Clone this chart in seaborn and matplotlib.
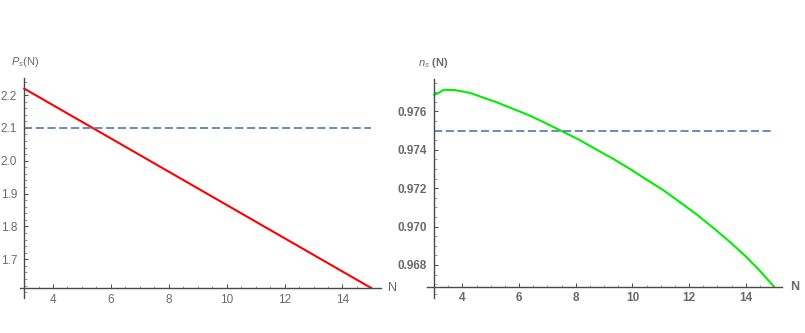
import numpy as np
import pandas as pd
import matplotlib
matplotlib.use("Agg")
import matplotlib.pyplot as plt
from matplotlib.ticker import MultipleLocator, FormatStrFormatter
import seaborn as sns

# Data ----------------------------------------------------------------
n_left = [3.0, 15.0]
ps_left = [2.22, 1.612]
ps_ref = 2.1

n_right = [3.0, 3.16, 3.34, 3.75, 4.28, 4.7, 5.22, 5.8, 6.40, 6.9, 7.46,
           8.1, 8.75, 9.3, 9.93, 10.5, 11.11, 11.7, 12.29, 12.9, 13.46,
           14.0, 14.5, 15.0]
ns_right = [0.97687, 0.97696, 0.97713, 0.97711, 0.97696, 0.97674, 0.97647,
            0.97613, 0.97577, 0.97542, 0.97501, 0.97454, 0.97400, 0.97355,
            0.97299, 0.97245, 0.97188, 0.97125, 0.97061, 0.96988, 0.96918,
            0.96845, 0.96770, 0.96687]
ns_ref = 0.975

x_major = [4, 6, 8, 10, 12, 14]
left_yticks = [1.7, 1.8, 1.9, 2.0, 2.1, 2.2]
right_yticks = [0.968, 0.970, 0.972, 0.974, 0.976]
# ---------------------------------------------------------------------

sns.set_style("white")
plt.rcParams['font.family'] = ['Liberation Sans', 'DejaVu Sans']
plt.rcParams['mathtext.fontset'] = 'custom'
plt.rcParams['mathtext.rm'] = 'Liberation Sans'
plt.rcParams['mathtext.it'] = 'Liberation Sans:italic'
plt.rcParams['mathtext.bf'] = 'Liberation Sans:bold'

axis_col = '#4a4a4a'
lab_col = '#6a6a6a'
dash_col = '#5e81b5'

fig = plt.figure(figsize=(8.05, 3.33), dpi=100)
ax1 = fig.add_axes([20/805, 35/333, 361/805, 220/333])
ax2 = fig.add_axes([426.7/805, 35/333, 355/805, 219/333])


def style_axes(ax, xlim, ylim, x0, y0, yticks, yminor):
    ax.set_xlim(*xlim)
    ax.set_ylim(*ylim)
    for s in ['top', 'right']:
        ax.spines[s].set_visible(False)
    ax.spines['left'].set_position(('data', x0))
    ax.spines['bottom'].set_position(('data', y0))
    for s in ['left', 'bottom']:
        ax.spines[s].set_color(axis_col)
        ax.spines[s].set_linewidth(1.0)
    ax.set_xticks(x_major)
    ax.set_yticks(yticks)
    ax.xaxis.set_minor_locator(MultipleLocator(0.5))
    ax.yaxis.set_minor_locator(MultipleLocator(yminor))
    ax.tick_params(which='both', bottom=True, left=True, top=False, right=False)
    ax.tick_params(which='major', direction='in', length=3.2, width=0.7,
                   color=axis_col, labelcolor=lab_col, labelsize=8.5, pad=5)
    ax.tick_params(which='minor', direction='in', length=1.8, width=0.6,
                   color='#888888')
    ax.tick_params(axis='x', pad=4)
    ax.set_xlabel('')
    ax.set_ylabel('')


# left panel
sns.lineplot(x=n_left, y=ps_left, ax=ax1, color='#ff0000', linewidth=1.5)
ax1.hlines(ps_ref, n_left[0], n_left[-1], color=dash_col, linewidth=1.3,
           linestyles=(0, (4.5, 2.0)))
style_axes(ax1, (2.86, 15.33), (1.582, 2.252), 3.0, 1.611,
           left_yticks, 0.02)
ax1.yaxis.set_major_formatter(FormatStrFormatter('%.1f'))
ax1.text(15.71, 1.611, 'N', ha='center', va='center', color=lab_col,
         fontsize=9, clip_on=False)
fig.text(25/805, 1 - 62/333, r'$P_s$(N)', ha='center', va='center',
         color=lab_col, fontsize=8)

# right panel
sns.lineplot(x=n_right, y=ns_right, ax=ax2, color='#00ee00', linewidth=1.5)
ax2.hlines(ns_ref, n_right[0], n_right[-1], color=dash_col, linewidth=1.3,
           linestyles=(0, (4.5, 2.0)))
style_axes(ax2, (2.74, 15.27), (0.96628, 0.97769), 3.0, 0.96687,
           right_yticks, 0.0005)
ax2.yaxis.set_major_formatter(FormatStrFormatter('%.3f'))
for t in ax2.get_xticklabels() + ax2.get_yticklabels():
    t.set_fontweight('bold')
ax2.text(15.74, 0.96687, 'N', ha='center', va='center', color=lab_col,
         fontsize=9, fontweight='bold', clip_on=False)
fig.text(433/805, 1 - 63/333, r'$n_s$ (N)', ha='center', va='center',
         color=lab_col, fontsize=8, fontweight='bold')

fig.savefig('out.png', dpi=100)
